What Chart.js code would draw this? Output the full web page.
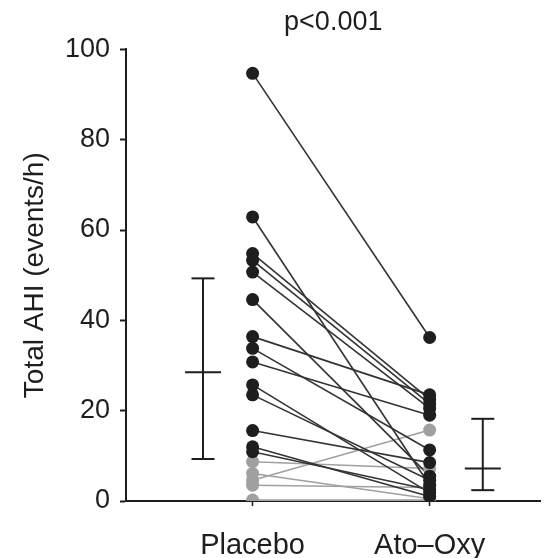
<!DOCTYPE html>
<html>
<head>
<meta charset="utf-8">
<script src="https://cdn.jsdelivr.net/npm/chart.js@4.4.1/dist/chart.umd.min.js"></script>
<style>
  html, body { margin: 0; padding: 0; background: #fff; }
  #wrap { width: 547px; height: 558px; }
</style>
</head>
<body>
<div id="wrap"><canvas id="ahiChart"></canvas></div>
<script>
// paired values per subject (events/h)
const groups = ['Placebo', 'Ato\u2013Oxy'];
const placebo = [94.7, 62.9, 54.8, 53.3, 50.7, 44.6, 36.4, 33.8, 30.8, 25.7, 23.5, 15.6, 12.0, 10.9, 8.7, 6.1, 4.6, 3.5, 0.2];
const atoOxy  = [36.2, 3.5, 22.5, 21.5, 20.5, 5.5, 23.5, 11.3, 19.0, 1.8, 4.6, 8.5, 1.0, 2.5, 7.2, 0.5, 15.7, 3.0, 0.2];
const shade   = ['k', 'k', 'k', 'k', 'k', 'k', 'k', 'k', 'k', 'k', 'k', 'k', 'k', 'k', 'g', 'g', 'g', 'g', 'g'];

// summary bars beside each column
const barPos  = [0.72, 2.30];
const barMid  = [28.5, 7.2];
const barLow  = [9.3, 2.4];
const barHigh = [49.3, 18.2];

const yTicks = [0, 20, 40, 60, 80, 100];

const BLACK = '#1e1e1e';
const GREY = '#a0a0a0';
const FONT = 'Liberation Sans, Arial, Helvetica, sans-serif';

const lineSets = placebo.map((v, i) => ({
    type: 'line',
    data: [{ x: 1, y: v }, { x: 2, y: atoOxy[i] }],
    borderColor: shade[i] === 'k' ? '#333' : GREY,
    borderWidth: 1.6,
    pointRadius: 0,
    order: shade[i] === 'k' ? 3 : 4
}));

const pointSets = ['g', 'k'].map(s => ({
    type: 'scatter',
    data: placebo.flatMap((v, i) => shade[i] === s
        ? [{ x: 1, y: v }, { x: 2, y: atoOxy[i] }] : []),
    backgroundColor: s === 'k' ? BLACK : GREY,
    borderWidth: 0,
    pointRadius: 6.5,
    order: s === 'k' ? 1 : 2
}));

const errorBars = {
    id: 'errorBars',
    afterDatasetsDraw(chart) {
        const { ctx, scales: { x, y } } = chart;
        ctx.save();
        ctx.strokeStyle = BLACK;
        ctx.lineWidth = 2;
        barPos.forEach((p, i) => {
            const px = x.getPixelForValue(p);
            const hline = (val, half) => {
                const py = y.getPixelForValue(val);
                ctx.beginPath();
                ctx.moveTo(px - half, py);
                ctx.lineTo(px + half, py);
                ctx.stroke();
            };
            ctx.beginPath();
            ctx.moveTo(px, y.getPixelForValue(barLow[i]));
            ctx.lineTo(px, y.getPixelForValue(barHigh[i]));
            ctx.stroke();
            hline(barHigh[i], 11.5);
            hline(barLow[i], 11.5);
            hline(barMid[i], 18);
        });
        ctx.restore();
    }
};

new Chart(document.getElementById('ahiChart'), {
    data: { datasets: [...pointSets, ...lineSets] },
    options: {
        responsive: true,
        maintainAspectRatio: false,
        animation: false,
        layout: { padding: { left: 0, right: 2, top: 0, bottom: 0 } },
        plugins: {
            legend: { display: false },
            tooltip: { enabled: false },
            title: {
                display: true,
                text: 'p<0.001',
                fullSize: false,
                color: BLACK,
                font: { family: FONT, size: 27, weight: 'normal' },
                padding: { top: 6, bottom: 11 }
            }
        },
        scales: {
            x: {
                type: 'linear',
                min: 0.285,
                max: 2.626,
                afterBuildTicks: axis => { axis.ticks = [{ value: 1 }, { value: 2 }]; },
                afterFit: axis => { axis.height = 57; },
                ticks: {
                    callback: v => groups[v - 1],
                    color: BLACK,
                    font: { family: FONT, size: 29 },
                    padding: 23,
                    maxRotation: 0
                },
                grid: { drawOnChartArea: false, tickLength: 5, color: BLACK, tickColor: BLACK, tickWidth: 1.5 },
                border: { color: BLACK, width: 2 }
            },
            y: {
                min: 0,
                max: 100,
                afterBuildTicks: axis => { axis.ticks = yTicks.map(v => ({ value: v })); },
                afterFit: axis => { axis.width = 126; },
                ticks: {
                    color: BLACK,
                    font: { family: FONT, size: 27 },
                    padding: 10
                },
                grid: { drawOnChartArea: false, tickLength: 6, tickColor: BLACK, tickWidth: 2 },
                border: { color: BLACK, width: 2 },
                title: {
                    display: true,
                    text: 'Total AHI (events/h)',
                    color: BLACK,
                    font: { family: FONT, size: 28 },
                    padding: { top: 18, bottom: 0 }
                }
            }
        }
    },
    plugins: [errorBars]
});
</script>
</body>
</html>
